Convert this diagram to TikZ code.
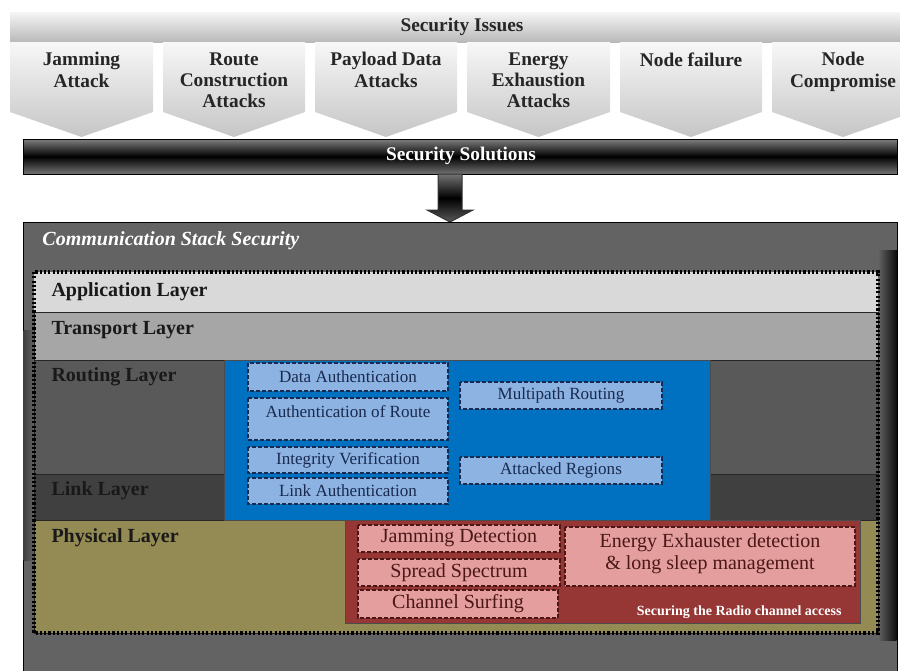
\documentclass[tikz,border=0pt]{standalone}
\usepackage{fontspec}
\setmainfont{Liberation Serif}

\definecolor{appgray}{RGB}{217,217,217}
\definecolor{transgray}{RGB}{166,166,166}
\definecolor{routegray}{RGB}{89,89,89}
\definecolor{linkgray}{RGB}{64,64,64}
\definecolor{physolive}{RGB}{148,138,84}
\definecolor{stackgray}{RGB}{99,99,99}
\definecolor{secblue}{RGB}{0,112,192}
\definecolor{boxblue}{RGB}{141,179,226}
\definecolor{navy}{RGB}{25,42,80}
\definecolor{secred}{RGB}{150,55,53}
\definecolor{boxpink}{RGB}{228,158,158}
\definecolor{darkred}{RGB}{75,22,22}

\tikzset{every picture/.style={line width=0.75pt}}
\tikzset{
  chevron/.style={top color=gray!6, bottom color=gray!45, draw=none},
  issuetext/.style={anchor=north, align=center, inner sep=0.75pt, font=\fontsize{14.5}{16}\selectfont\bfseries, text=black!85},
  layerlabel/.style={anchor=west, inner sep=0.75pt, font=\fontsize{15}{16}\selectfont\bfseries, text=black!90},
  bluebox/.style={fill=boxblue, draw=navy, dash pattern={on 3pt off 1.5pt}, line width=1pt},
  bluetext/.style={inner sep=0.75pt, font=\fontsize{12.8}{14}\selectfont, text=navy},
  pinkbox/.style={fill=boxpink, draw=darkred, dash pattern={on 3pt off 1.5pt}, line width=1pt},
  pinktext/.style={inner sep=0.75pt, align=center, font=\fontsize{15}{16.5}\selectfont, text=darkred},
}

\begin{document}
\begin{tikzpicture}[x=0.75pt,y=0.75pt,yscale=-1,xscale=1]
\useasboundingbox (0,0) rectangle (900,671);
\clip (0,0) rectangle (900,671);

%Shape: Security Issues bar
\draw [top color=gray!8, bottom color=gray!55, draw=none] (10,12) rectangle (900,42) ;
% Text Node
\node [inner sep=0.75pt, font=\fontsize{14.5}{16}\selectfont\bfseries, text=black!85] (issues) at (462,27) {Security Issues};

%Shape: Chevrons
\draw [chevron] (10,42) -- (153,42) -- (153,112) -- (81.5,137) -- (10,112) -- cycle ;
\draw [chevron] (163,42) -- (305,42) -- (305,112) -- (234,137) -- (163,112) -- cycle ;
\draw [chevron] (315,42) -- (457,42) -- (457,112) -- (386,137) -- (315,112) -- cycle ;
\draw [chevron] (467,42) -- (610,42) -- (610,112) -- (538.5,137) -- (467,112) -- cycle ;
\draw [chevron] (620,42) -- (762,42) -- (762,112) -- (691,137) -- (620,112) -- cycle ;
\draw [chevron] (772,42) -- (914,42) -- (914,112) -- (843,137) -- (772,112) -- cycle ;

% Text Node
\node [issuetext] (jamming) at (81.5,51) {Jamming\\Attack};
% Text Node
\node [issuetext] (routecon) at (234,51) {Route\\Construction\\Attacks};
% Text Node
\node [issuetext] (payload) at (386,51) {Payload Data\\Attacks};
% Text Node
\node [issuetext] (energy) at (538.5,51) {Energy\\Exhaustion\\Attacks};
% Text Node
\node [issuetext] (nodefail) at (691,51) {Node failure};
% Text Node
\node [issuetext] (nodecomp) at (843,51) {Node\\Compromise};

%Shape: Security Solutions bar
\draw [top color=black!50, bottom color=black!55, middle color=black, draw=black] (23,139) rectangle (897,174) ;
% Text Node
\node [inner sep=0.75pt, font=\fontsize{14.5}{16}\selectfont\bfseries, text=white] (solutions) at (461,156) {Security Solutions};

%Shape: Down arrow
\draw [top color=black!55, bottom color=black!65, middle color=black, draw=black!80] (438,174) -- (462,174) -- (462,210) -- (473,210) -- (450,222) -- (427,210) -- (438,210) -- cycle ;

%Shape: Communication Stack Security box
\draw [fill=stackgray, draw=black] (23,222) rectangle (897,680) ;
\fill [left color=black!75, right color=stackgray] (23.5,330) rectangle (34,560) ;
\fill [left color=stackgray, right color=black!95] (878,250) rectangle (896.5,640) ;
% Text Node
\node [anchor=west, inner sep=0.75pt, font=\fontsize{15}{16}\selectfont\bfseries\itshape, text=white] (stack) at (41,241) {Communication Stack Security};

%Shape: Layers
\draw [fill=appgray, draw=none] (34,272) rectangle (878,312) ;
\draw [fill=transgray, draw=black!85] (34,312) rectangle (878,360) ;
\draw [fill=routegray, draw=black!85] (34,360) rectangle (878,474) ;
\draw [fill=linkgray, draw=black!85] (34,474) rectangle (878,520) ;
\draw [fill=physolive, draw=black!85] (34,520) rectangle (878,633) ;
%Shape: Dotted frame
\draw [draw=black, line width=2.4pt, dash pattern={on 1.6pt off 1.6pt}] (34,272) rectangle (878,633) ;

% Text Node
\node [layerlabel] (applayer) at (50,292) {Application Layer};
% Text Node
\node [layerlabel] (translayer) at (50,330) {Transport Layer};
% Text Node
\node [layerlabel] (routelayer) at (50,377) {Routing Layer};
% Text Node
\node [layerlabel] (linklayer) at (50,491) {Link Layer};
% Text Node
\node [layerlabel] (physlayer) at (50,538) {Physical Layer};

%Shape: Routing and link security region
\draw [fill=secblue, draw=black!70] (224,360) rectangle (710,520) ;
\draw [bluebox] (248,363) rectangle (448,391) ;
\draw [bluebox] (248,398) rectangle (448,440) ;
\draw [bluebox] (248,447) rectangle (448,473) ;
\draw [bluebox] (248,478) rectangle (448,504) ;
\draw [bluebox] (460,382) rectangle (662,409) ;
\draw [bluebox] (460,457) rectangle (662,484) ;

% Text Node
\node [bluetext] (dataauth) at (348,377) {Data Authentication};
% Text Node
\node [bluetext] (routeauth) at (348,412) {Authentication of Route};
% Text Node
\node [bluetext] (integrity) at (348,460) {Integrity Verification};
% Text Node
\node [bluetext] (linkauth) at (348,491) {Link Authentication};
% Text Node
\node [bluetext] (multipath) at (561,395.5) {Multipath Routing};
% Text Node
\node [bluetext] (attacked) at (561,470.5) {Attacked Regions};

%Shape: Radio channel security region
\draw [fill=secred, draw=black!70] (345,520) rectangle (860,623) ;
\draw [pinkbox] (358,525) rectangle (560,552) ;
\draw [pinkbox] (358,559) rectangle (560,586) ;
\draw [pinkbox] (358,590) rectangle (558,618) ;
\draw [pinkbox] (565,527) rectangle (855,586) ;

% Text Node
\node [pinktext] (jamdetect) at (459,538.5) {Jamming Detection};
% Text Node
\node [pinktext] (spread) at (459,572.5) {Spread Spectrum};
% Text Node
\node [pinktext] (surfing) at (458,604) {Channel Surfing};
% Text Node
\node [pinktext] (exhaust) at (710,554) {Energy Exhauster detection\\\& long sleep management};
% Text Node
\node [anchor=east, inner sep=0.75pt, font=\fontsize{10.5}{12}\selectfont\bfseries, text=white] (radio) at (843,612) {Securing the Radio channel access};

\end{tikzpicture}
\end{document}
